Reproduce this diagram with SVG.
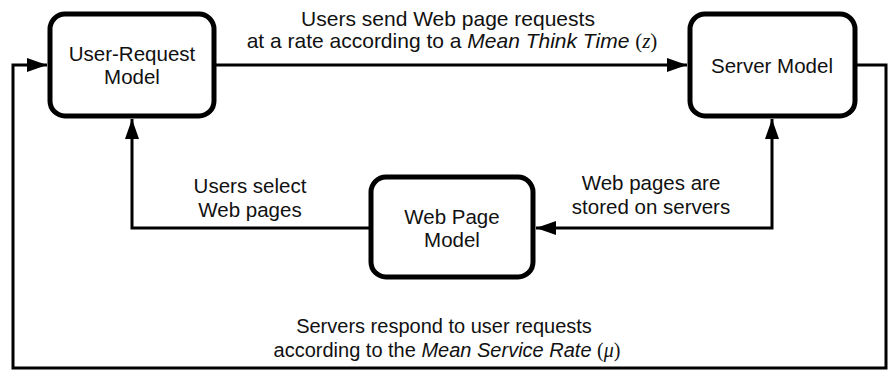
<svg xmlns="http://www.w3.org/2000/svg" width="888" height="370" viewBox="0 0 888 370">
  <style>
    .node rect { fill: #ffffff; stroke: #000000; stroke-width: 5; }
    .lbl { font-family: "Liberation Sans", Arial, sans-serif; font-size: 20.5px; fill: #111111; text-anchor: middle; }
    .top { font-size: 21px; }
    .bot { font-size: 20px; }
    .it { font-style: italic; }
    .sym { font-family: "Liberation Serif", "Times New Roman", serif; }
    .conn path { fill: none; stroke: #000000; stroke-width: 3; }
  </style>
  <defs>
    <marker id="arr" markerUnits="userSpaceOnUse" markerWidth="20" markerHeight="14" refX="20" refY="7" orient="auto-start-reverse" viewBox="0 0 20 14">
      <path d="M0,0 L20,7 L0,14 z" fill="#000000"/>
    </marker>
  </defs>
  <rect x="0" y="0" width="888" height="370" fill="#ffffff"/>

  <g id="connectors" class="conn">
    <path d="M215,65 H687" marker-end="url(#arr)"/>
    <path d="M855,65 H886 V368 H13 V65 H47" marker-end="url(#arr)"/>
    <path d="M371,228 H132 V119" marker-end="url(#arr)"/>
    <path d="M772,119 V228 H536" marker-start="url(#arr)" marker-end="url(#arr)"/>
  </g>

  <g id="user-request" class="node">
    <rect x="50" y="14" width="164" height="102" rx="15"/>
    <text class="lbl" x="132" y="61">User-Request</text>
    <text class="lbl" x="132" y="84">Model</text>
  </g>

  <g id="server" class="node">
    <rect x="690" y="14" width="165" height="102" rx="15"/>
    <text class="lbl" x="772" y="73">Server Model</text>
  </g>

  <g id="web-page" class="node">
    <rect x="371" y="177" width="162" height="100" rx="15"/>
    <text class="lbl" x="452" y="224">Web Page</text>
    <text class="lbl" x="452" y="247">Model</text>
  </g>

  <g id="labels">
    <text class="lbl top" x="448" y="26">Users send Web page requests</text>
    <text class="lbl top" x="452" y="48">at a rate according to a <tspan class="it">Mean Think Time</tspan> <tspan class="sym">(<tspan class="it">z</tspan>)</tspan></text>
    <text class="lbl" x="250" y="193">Users select</text>
    <text class="lbl" x="250" y="217">Web pages</text>
    <text class="lbl" x="651" y="190">Web pages are</text>
    <text class="lbl" x="651" y="214">stored on servers</text>
    <text class="lbl bot" x="444" y="333">Servers respond to user requests</text>
    <text class="lbl bot" x="447" y="357">according to the <tspan class="it">Mean Service Rate</tspan> <tspan class="sym">(<tspan class="it">μ</tspan>)</tspan></text>
  </g>
</svg>
